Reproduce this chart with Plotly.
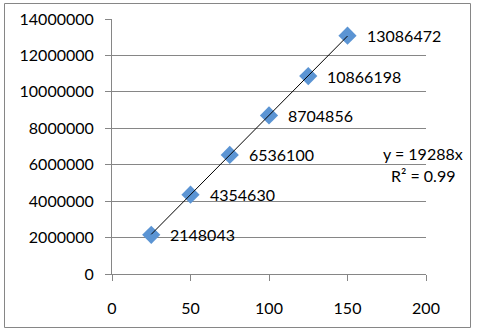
import numpy as np
import plotly.graph_objects as go

x_vals = [25, 50, 75, 100, 125, 150]
y_vals = [2148043, 4354630, 6536100, 8704856, 10866198, 13086472]
point_labels = [str(v) for v in y_vals]
x_ticks = [0, 50, 100, 150, 200]
y_ticks = [0, 2000000, 4000000, 6000000, 8000000, 10000000, 12000000, 14000000]
equation_text = "y = 19288x"
r2_text = "R² = 0.99"

FONT = "Lato"
GRID = "#868686"

xa = np.array(x_vals, dtype=float)
ya = np.array(y_vals, dtype=float)
slope = (xa * ya).sum() / (xa * xa).sum()
trend_x = [xa.min(), xa.max()]
trend_y = [slope * v for v in trend_x]

fig = go.Figure()
fig.add_trace(go.Scatter(
    x=x_vals, y=y_vals, mode="markers",
    marker=dict(symbol="diamond", size=14, color="#5B94D3"),
    cliponaxis=False, showlegend=False,
))
fig.add_trace(go.Scatter(
    x=trend_x, y=trend_y, mode="lines",
    line=dict(color="#000000", width=1), showlegend=False,
))
for xv, yv, lab in zip(x_vals, y_vals, point_labels):
    fig.add_annotation(x=xv, y=yv, text=lab, showarrow=False,
                       xanchor="left", yanchor="middle", xshift=17,
                       font=dict(family=FONT, size=16, color="#000000"))

W, H = 477, 333
L, R, T, B = 112, 51, 19, 59
pw, ph = W - L - R, H - T - B

def px_x(p):
    return (p - L) / pw

def px_y(p):
    return (H - B - p) / ph

fig.add_shape(type="rect", xref="paper", yref="paper",
              x0=px_x(4.5), x1=px_x(470.5), y0=px_y(327.5), y1=px_y(3.5),
              line=dict(color=GRID, width=1), layer="below")

fig.add_annotation(xref="paper", yref="paper", x=px_x(423), y=px_y(153),
                   text=equation_text, showarrow=False, xanchor="center", yanchor="middle",
                   font=dict(family=FONT, size=16, color="#000000"))
fig.add_annotation(xref="paper", yref="paper", x=px_x(423), y=px_y(175),
                   text=r2_text, showarrow=False, xanchor="center", yanchor="middle",
                   font=dict(family=FONT, size=16, color="#000000"))

fig.update_xaxes(range=[0, 200], tickvals=x_ticks, showgrid=False,
                 showline=True, linecolor=GRID, linewidth=1,
                 ticks="outside", ticklen=6, tickcolor=GRID,
                 ticklabelstandoff=14, zeroline=False,
                 tickfont=dict(family=FONT, size=16, color="#000000"))
fig.update_yaxes(range=[0, 14000000], tickvals=y_ticks, tickformat="d",
                 showgrid=True, gridcolor=GRID, gridwidth=1,
                 showline=True, linecolor=GRID, linewidth=1,
                 ticks="outside", ticklen=6, tickcolor=GRID,
                 ticklabelstandoff=8, zeroline=False,
                 tickfont=dict(family=FONT, size=16, color="#000000"))

fig.update_layout(width=W, height=H, margin=dict(l=L, r=R, t=T, b=B, autoexpand=False),
                  paper_bgcolor="white", plot_bgcolor="white")

fig.write_html("out.html")
